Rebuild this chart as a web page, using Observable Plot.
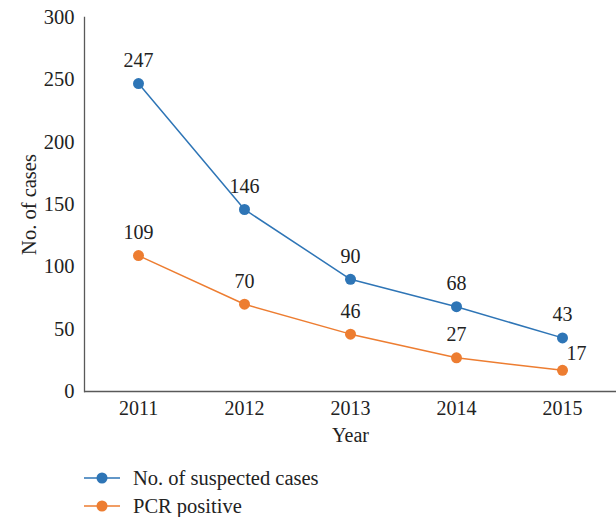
<!DOCTYPE html>
<html><head><meta charset="utf-8">
<script src="https://cdn.jsdelivr.net/npm/d3@7"></script>
<script src="https://cdn.jsdelivr.net/npm/@observablehq/plot@0.6"></script>
<style>
body{margin:0;background:#fff;font-family:"Liberation Serif","Times New Roman",serif;}
#legend{padding-top:9px;padding-left:84px;font-size:20.5px;color:#222;}
.row{display:flex;align-items:center;height:28px;}
.row svg{margin-right:13px;}
</style></head><body><div id="chart"></div><div id="legend"></div><script>
const years = ["2011","2012","2013","2014","2015"];
const suspected = [247,146,90,68,43];
const pcr = [109,70,46,27,17];
const seriesNames = ["No. of suspected cases","PCR positive"];
const colors = ["#2E75B6","#ED7D31"];
const yTicks = [0,50,100,150,200,250,300];

const data = [];
years.forEach((y,i)=>{
  data.push({year:y, value:suspected[i], series:seriesNames[0]});
  data.push({year:y, value:pcr[i], series:seriesNames[1]});
});
const lastYear = years[years.length-1];
const isSpecial = d => d.series===seriesNames[1] && d.year===lastYear;

const chart = Plot.plot({
  width:616, height:455,
  marginLeft:84, marginRight:0, marginTop:17, marginBottom:64,
  style:{fontFamily:'"Liberation Serif","Times New Roman",serif', fontSize:"20px", color:"#222", background:"#fff"},
  x:{type:"band", domain:years, padding:0},
  y:{domain:[0,300]},
  color:{domain:seriesNames, range:colors},
  marks:[
    Plot.axisY({ticks:yTicks, tickSize:0, tickPadding:10, label:"No. of cases", labelAnchor:"center", labelArrow:"none", labelOffset:63, fontSize:20.5}),
    Plot.axisX({tickSize:0, tickPadding:9, label:"Year", labelAnchor:"center", labelArrow:"none", labelOffset:50, fontSize:20}),
    Plot.frame({anchor:"left", stroke:"#595959", strokeWidth:1.3}),
    Plot.ruleY([0], {stroke:"#595959", strokeWidth:1.3}),
    Plot.line(data, {x:"year", y:"value", z:"series", stroke:"series", strokeWidth:1.5}),
    Plot.dot(data, {x:"year", y:"value", fill:"series", r:5.5}),
    Plot.text(data.filter(d=>!isSpecial(d)), {x:"year", y:"value", text:d=>String(d.value), dy:-23, fontSize:20, fill:"#222"}),
    Plot.text(data.filter(isSpecial), {x:"year", y:"value", text:d=>String(d.value), dx:14, dy:-17, fontSize:20, fill:"#222"})
  ]
});
document.getElementById("chart").appendChild(chart);

const legend = document.getElementById("legend");
seriesNames.forEach((name,i)=>{
  const row = document.createElement("div");
  row.className="row";
  row.innerHTML = `<svg width="36" height="14"><line x1="0" y1="7" x2="36" y2="7" stroke="${colors[i]}" stroke-width="1.5"/><circle cx="18" cy="7" r="5.5" fill="${colors[i]}"/></svg><span>${name}</span>`;
  legend.appendChild(row);
});
</script></body></html>
